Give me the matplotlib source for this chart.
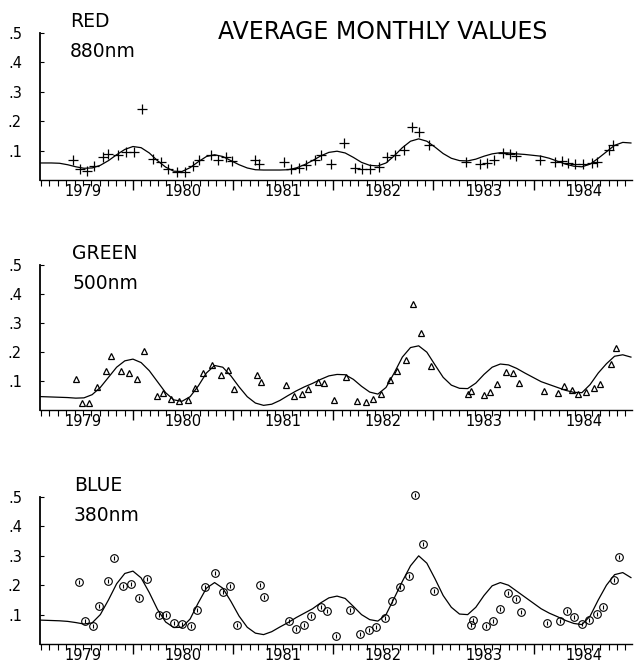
import numpy as np
import matplotlib
matplotlib.use("Agg")
import matplotlib.pyplot as plt

# monthly averages, time in decimal years
red_t = [1979.40, 1979.47, 1979.54, 1979.61, 1979.70, 1979.75, 1979.85, 1979.93, 1980.01, 1980.09,
         1980.20, 1980.28, 1980.35, 1980.44, 1980.52, 1980.60, 1980.66, 1980.78, 1980.85, 1980.93,
         1980.99, 1981.22, 1981.26, 1981.51, 1981.58, 1981.66, 1981.73, 1981.82, 1981.88, 1981.98,
         1982.11, 1982.22, 1982.29, 1982.37, 1982.46, 1982.54, 1982.62, 1982.71, 1982.79, 1982.86,
         1982.96, 1983.32, 1983.46, 1983.53, 1983.60, 1983.69, 1983.76, 1983.82, 1984.06, 1984.21,
         1984.28, 1984.34, 1984.41, 1984.49, 1984.58, 1984.63, 1984.75, 1984.79]
red_v = [.069, .038, .029, .049, .079, .090, .086, .094, .094, .243,
         .072, .060, .036, .028, .028, .049, .067, .085, .069, .079,
         .065, .067, .054, .062, .036, .041, .052, .069, .085, .054,
         .126, .042, .039, .038, .045, .079, .086, .101, .182, .165,
         .119, .060, .055, .058, .069, .092, .090, .081, .069, .060,
         .064, .058, .054, .054, .058, .062, .101, .120]

green_t = [1979.43, 1979.49, 1979.56, 1979.64, 1979.73, 1979.78, 1979.88, 1979.96, 1980.04, 1980.11,
           1980.24, 1980.30, 1980.38, 1980.46, 1980.55, 1980.62, 1980.70, 1980.79, 1980.88, 1980.95,
           1981.01, 1981.24, 1981.28, 1981.53, 1981.61, 1981.69, 1981.75, 1981.85, 1981.91, 1982.01,
           1982.13, 1982.24, 1982.33, 1982.40, 1982.48, 1982.57, 1982.64, 1982.73, 1982.80, 1982.88,
           1982.98, 1983.34, 1983.37, 1983.50, 1983.56, 1983.63, 1983.72, 1983.79, 1983.85, 1984.10,
           1984.24, 1984.30, 1984.38, 1984.44, 1984.52, 1984.60, 1984.66, 1984.77, 1984.82]
green_v = [.107, .023, .023, .079, .135, .187, .136, .127, .107, .205,
           .048, .060, .038, .031, .035, .075, .128, .156, .122, .139,
           .072, .122, .097, .087, .049, .056, .073, .096, .092, .035,
           .115, .030, .028, .038, .055, .105, .134, .173, .368, .267,
           .153, .055, .065, .052, .062, .090, .131, .127, .092, .067,
           .058, .083, .069, .055, .062, .076, .090, .159, .213]

blue_t = [1979.46, 1979.52, 1979.60, 1979.66, 1979.75, 1979.81, 1979.90, 1979.98, 1980.06, 1980.14,
          1980.26, 1980.33, 1980.41, 1980.49, 1980.58, 1980.64, 1980.72, 1980.82, 1980.90, 1980.97,
          1981.04, 1981.27, 1981.31, 1981.56, 1981.63, 1981.71, 1981.78, 1981.88, 1981.94, 1982.03,
          1982.17, 1982.27, 1982.36, 1982.43, 1982.52, 1982.59, 1982.67, 1982.76, 1982.82, 1982.90,
          1983.01, 1983.37, 1983.39, 1983.52, 1983.59, 1983.66, 1983.74, 1983.82, 1983.87, 1984.13,
          1984.26, 1984.33, 1984.40, 1984.48, 1984.55, 1984.63, 1984.69, 1984.80, 1984.85]
blue_v = [.211, .077, .060, .128, .213, .291, .198, .203, .156, .220,
          .099, .098, .071, .068, .060, .117, .193, .243, .176, .196,
          .066, .201, .160, .079, .051, .066, .096, .127, .113, .028,
          .117, .034, .048, .059, .088, .145, .193, .230, .506, .341,
          .180, .064, .081, .060, .077, .119, .173, .153, .110, .070,
          .077, .113, .093, .069, .082, .102, .125, .219, .296]

# smoothed curves, 74 samples across the time axis
curve_t = np.linspace(1979.022, 1984.971, 74)
red_curve = [.058, .058, .058, .057, .052, .045, .040, .041, .050, .066, .086, .104,
             .114, .110, .092, .066, .044, .030, .029, .042, .062, .080, .086, .080,
             .066, .052, .041, .035, .034, .034, .034, .035, .041, .052, .066, .082,
             .094, .098, .092, .077, .060, .050, .048, .058, .082, .110, .132, .140,
             .132, .112, .090, .074, .066, .065, .071, .081, .089, .093, .092, .089,
             .087, .084, .081, .074, .064, .054, .047, .045, .054, .074, .096, .118,
             .128, .126]
green_curve = [.047, .046, .045, .044, .043, .041, .042, .053, .078, .113, .148, .170,
               .176, .164, .136, .098, .060, .035, .030, .046, .083, .128, .154, .148,
               .118, .080, .046, .024, .016, .020, .033, .050, .066, .080, .092, .106,
               .118, .123, .122, .106, .082, .062, .055, .078, .128, .183, .216, .222,
               .200, .156, .113, .086, .075, .074, .093, .123, .148, .159, .156, .144,
               .128, .113, .098, .088, .078, .068, .061, .060, .088, .128, .160, .186,
               .191, .183]
blue_curve = [.082, .081, .080, .079, .077, .073, .068, .072, .100, .150, .205, .240,
              .248, .225, .175, .118, .075, .056, .057, .085, .140, .190, .209, .190,
              .145, .095, .057, .037, .032, .042, .058, .073, .090, .105, .120, .140,
              .157, .163, .155, .128, .100, .083, .078, .100, .156, .213, .266, .300,
              .275, .222, .165, .125, .102, .100, .125, .165, .198, .209, .200, .180,
              .160, .140, .120, .105, .093, .080, .070, .066, .095, .150, .200, .236,
              .243, .226]

years = [1979, 1980, 1981, 1982, 1983, 1984]
ytick_vals = [.1, .2, .3, .4, .5]
ytick_labels = [".1", ".2", ".3", ".4", ".5"]

fig = plt.figure(figsize=(6.35, 6.66), dpi=100)


def panel(rect, t, v, curve, marker, name, wave, label_x):
    ax = fig.add_axes(rect)
    ax.plot(curve_t, curve, color="black", lw=0.9)
    if marker == "o":
        ax.plot(t, v, linestyle="none", marker="o", ms=5.5, mfc="none",
                mec="black", mew=0.8, clip_on=False)
        ax.plot(t, v, linestyle="none", marker="|", ms=2.5, mew=0.8,
                color="black", clip_on=False)
    elif marker == "^":
        ax.plot(t, v, linestyle="none", marker="^", ms=5, mfc="none",
                mec="black", mew=0.9, clip_on=False)
    else:
        ax.plot(t, v, linestyle="none", marker="+", ms=6.5, mew=0.9,
                color="black", clip_on=False)

    ax.set_xlim(1979.072, 1984.98)
    ax.set_ylim(0, 0.5)
    for s in ["top", "right"]:
        ax.spines[s].set_visible(False)
    ax.spines["left"].set_linewidth(1.3)
    ax.spines["bottom"].set_linewidth(1.0)

    ax.set_yticks(ytick_vals, ytick_labels)
    ax.tick_params(axis="y", direction="in", length=3, pad=13, labelsize=10.5)

    # year boundaries long, months short, labels at mid-year
    ax.set_xticks(years[1:], [])
    months = [y + m / 12 for y in years for m in range(1, 12)]
    mlabels = [str(int(y)) if abs(y % 1 - 0.5) < 1e-6 else "" for y in months]
    ax.set_xticks(months, mlabels, minor=True)
    ax.tick_params(axis="x", which="major", direction="out", length=7, width=1.0)
    ax.tick_params(axis="x", which="minor", direction="out", length=4, width=0.8,
                   pad=-1, labelsize=10.5)

    top = rect[1] + rect[3]
    fig.text(label_x, top + 0.0175, name, fontsize=13.5, va="center")
    fig.text(label_x, top - 0.027, wave, fontsize=13.5, va="center")
    return ax


panel([0.063, 0.7297, 0.932, 0.2207], red_t, red_v, red_curve, "+",
      "RED", "880nm", 0.110)
panel([0.063, 0.3844, 0.932, 0.2170], green_t, green_v, green_curve, "^",
      "GREEN", "500nm", 0.114)
panel([0.063, 0.0330, 0.932, 0.2207], blue_t, blue_v, blue_curve, "o",
      "BLUE", "380nm", 0.116)

fig.text(0.603, 0.952, "AVERAGE MONTHLY VALUES", fontsize=17, ha="center",
         va="center")

fig.savefig("out.png", dpi=100)
